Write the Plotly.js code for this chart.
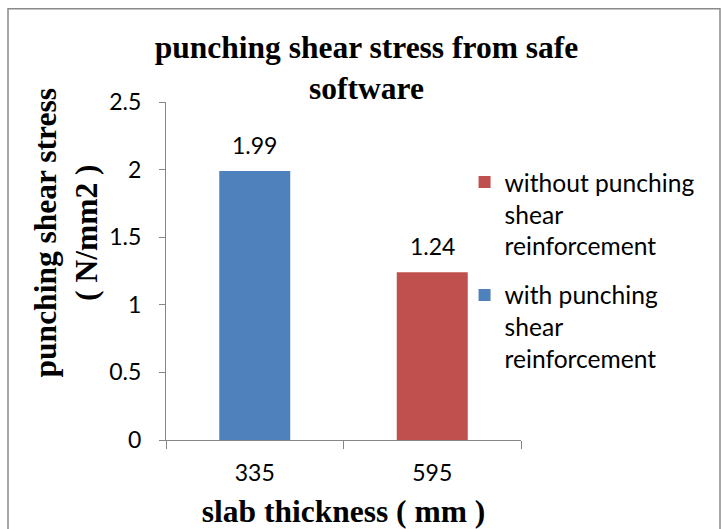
<!DOCTYPE html>
<html>
<head>
<meta charset="utf-8">
<script src="https://cdn.plot.ly/plotly-3.0.1.min.js"></script>
<style>
  html, body { margin: 0; padding: 0; background: #ffffff; }
  #chart { width: 725px; height: 529px; }
</style>
</head>
<body>
<div id="chart"></div>
<script>
// ---- data ----
const categories = ['335', '595'];
const seriesNames = ['with punching shear reinforcement', 'without punching shear reinforcement'];
const legendLabels = ['with punching<br>shear<br>reinforcement', 'without punching<br>shear<br>reinforcement'];
const seriesCategory = ['335', '595'];
const seriesValues = [1.99, 1.24];
const yTickVals = [0, 0.5, 1, 1.5, 2, 2.5];
const yTickText = ['0', '0.5', '1', '1.5', '2', '2.5'];
const chartTitle = 'punching shear stress from safe<br>software';
const xTitle = 'slab thickness ( mm )';
const yTitle = 'punching shear stress<br>( N/mm2 )';

// ---- style ----
const seriesColors = ['#4F81BD', '#C0504D'];
const serif = 'Liberation Serif, Times New Roman, serif';
const sans = 'Lato, Carlito, Calibri, sans-serif';
const axisGray = '#868686';

// legend shows the second series first, so build traces in reverse order
const order = seriesNames.map((_, i) => i).reverse();
const traces = order.map(i => ({
  type: 'bar',
  name: legendLabels[i],
  legendgroup: 'g' + i,
  x: [seriesCategory[i]],
  y: [seriesValues[i]],
  marker: { color: seriesColors[i] },
  hoverinfo: 'none'
}));

const labelAnnotations = seriesValues.map((v, i) => ({
  xref: 'x', yref: 'y',
  x: categories.indexOf(seriesCategory[i]), y: v,
  text: String(v),
  showarrow: false,
  xanchor: 'center', yanchor: 'bottom',
  yshift: 10,
  font: { family: sans, size: 23, color: '#000000' }
}));

const layout = {
  width: 725,
  height: 529,
  paper_bgcolor: '#ffffff',
  plot_bgcolor: '#ffffff',
  margin: { l: 166, r: 204, t: 102, b: 89, pad: 0 },
  barmode: 'overlay',
  bargap: 0.6,
  showlegend: true,
  title: {
    text: chartTitle,
    font: { family: serif, size: 31.5, color: '#000000', weight: 'bold' },
    xref: 'container', x: 0.5055, xanchor: 'center',
    yref: 'container', y: 0.890, yanchor: 'top'
  },
  xaxis: {
    type: 'category',
    categoryorder: 'array',
    categoryarray: categories,
    showline: true, linecolor: axisGray, linewidth: 1,
    ticks: 'outside', tickson: 'boundaries', ticklen: 8, tickcolor: axisGray, tickwidth: 1,
    ticklabelstandoff: 12,
    showgrid: false, zeroline: false,
    tickfont: { family: sans, size: 23, color: '#000000' },
    title: { text: xTitle, font: { family: serif, size: 31.5, color: '#000000', weight: 'bold' }, standoff: 16 }
  },
  yaxis: {
    range: [0, 2.5],
    tickmode: 'array', tickvals: yTickVals, ticktext: yTickText,
    showline: true, linecolor: axisGray, linewidth: 1,
    ticks: 'outside', ticklen: 6, tickcolor: axisGray, tickwidth: 1,
    ticklabelstandoff: 13,
    showgrid: false, zeroline: false,
    tickfont: { family: sans, size: 23, color: '#000000' }
  },
  legend: {
    x: 0.841, xanchor: 'left',
    y: 0.830, yanchor: 'top',
    traceorder: 'grouped',
    tracegroupgap: 14,
    valign: 'top',
    bgcolor: 'rgba(0,0,0,0)',
    borderwidth: 0,
    font: { family: sans, size: 24.6, color: '#000000' }
  },
  annotations: labelAnnotations.concat([{
    xref: 'paper', yref: 'paper',
    x: -0.279, y: 0.614,
    xanchor: 'center', yanchor: 'middle',
    textangle: -90,
    text: yTitle,
    showarrow: false,
    font: { family: serif, size: 31.5, color: '#000000', weight: 'bold' }
  }]),
  shapes: [{
    type: 'rect', xref: 'paper', yref: 'paper',
    x0: (8 - 166) / 355, x1: (720 - 166) / 355,
    y0: (439.6 - 540) / 337.9, y1: (439.6 - 8.5) / 337.9,
    line: { color: '#8a8a8a', width: 1.5 },
    layer: 'below'
  }]
};

Plotly.newPlot('chart', traces, layout, { displayModeBar: false });
</script>
</body>
</html>
